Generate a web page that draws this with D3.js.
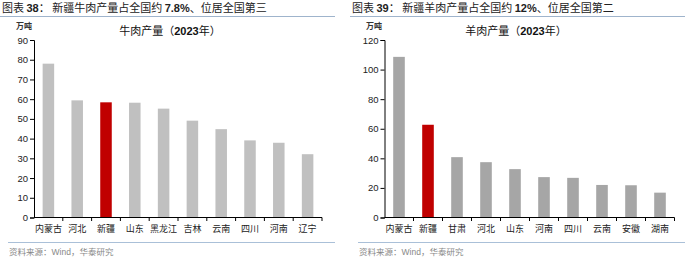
<!DOCTYPE html>
<html>
<head>
<meta charset="utf-8">
<script src="https://cdn.jsdelivr.net/npm/d3@7"></script>
<style>
body { margin: 0; background: #fff; }
svg text { font-family: "Liberation Sans", Arial, "Noto Sans CJK SC", sans-serif; }
.cjk { font-family: "Noto Sans CJK SC", sans-serif; }
.axis path, .axis line { stroke: #000; }
</style>
</head>
<body>
<svg id="chart" width="700" height="261"></svg>
<script>
let beefRegions = ['内蒙古', '河北', '新疆', '山东', '黑龙江', '吉林', '云南', '四川', '河南', '辽宁'];
let beefValues = [78.0, 59.4, 58.4, 58.2, 55.2, 49.1, 44.8, 39.1, 37.9, 32.1];
let beefTicks = [0, 10, 20, 30, 40, 50, 60, 70, 80, 90];

let muttonRegions = ['内蒙古', '新疆', '甘肃', '河北', '山东', '河南', '四川', '云南', '安徽', '湖南'];
let muttonValues = [108.6, 62.7, 40.8, 37.4, 32.7, 27.3, 26.8, 22.0, 21.8, 16.8];
let muttonTicks = [0, 20, 40, 60, 80, 100, 120];

let svg = d3.select('#chart');

function drawPanel(opt) {
    let g = svg.append('g').attr('transform', `translate(${opt.left},0)`);

    // header
    g.append('text')
        .attr('x', 2).attr('y', 12)
        .attr('font-size', 11).attr('fill', '#222')
        .html(`<tspan class="cjk">图表 </tspan><tspan font-weight="bold">${opt.num}</tspan><tspan class="cjk">：  </tspan><tspan class="cjk">${opt.head1}</tspan><tspan font-weight="bold">${opt.pct}</tspan><tspan class="cjk">${opt.head2}</tspan>`);
    g.append('line')
        .attr('x1', 0).attr('x2', 335).attr('y1', 16.5).attr('y2', 16.5)
        .attr('stroke', '#9fb4cc').attr('stroke-width', 1.2);

    g.append('text').attr('class', 'cjk')
        .attr('x', 16).attr('y', 29)
        .attr('font-size', 8).attr('font-weight', 'bold').attr('fill', '#333')
        .text('万吨');

    g.append('text').attr('class', 'cjk')
        .attr('x', opt.titleX).attr('y', 35)
        .attr('text-anchor', 'middle')
        .attr('font-size', 11).attr('fill', '#111')
        .html(`${opt.title}（<tspan font-family="Liberation Sans" font-weight="bold">2023</tspan>年）`);

    let x = d3.scaleBand()
        .domain(opt.regions)
        .range([opt.x0, opt.x1])
        .paddingInner(0.6).paddingOuter(0.3);

    let y = d3.scaleLinear()
        .domain([0, opt.ticks[opt.ticks.length - 1]])
        .range([217.5, 40]);

    g.selectAll('rect.bar')
        .data(opt.values)
        .join('rect')
            .attr('class', 'bar')
            .attr('x', (d, i) => x(opt.regions[i]))
            .attr('width', x.bandwidth())
            .attr('y', d => y(d))
            .attr('height', d => y(0) - y(d))
            .attr('fill', (d, i) => opt.regions[i] === '新疆' ? '#c00000' : opt.gray);

    let yAxis = d3.axisLeft(y).tickValues(opt.ticks).tickSize(4).tickSizeOuter(4);
    g.append('g')
        .attr('class', 'axis')
        .attr('transform', `translate(${opt.x0},0)`)
        .call(yAxis)
        .call(a => a.selectAll('text').attr('font-size', 9.5).attr('fill', '#222').attr('x', -6));

    // x axis with ticks at band boundaries
    let xa = g.append('g').attr('class', 'axis');
    xa.append('line')
        .attr('x1', opt.x0).attr('x2', opt.x1)
        .attr('y1', y(0)).attr('y2', y(0))
        .attr('stroke', '#000');
    let step = x.step();
    let edges = d3.range(opt.regions.length + 1).map(i => opt.x0 + i * (opt.x1 - opt.x0) / opt.regions.length);
    xa.selectAll('line.tk')
        .data(edges.slice(1))
        .join('line')
            .attr('class', 'tk')
            .attr('x1', d => d).attr('x2', d => d)
            .attr('y1', y(0)).attr('y2', y(0) + 3.5)
            .attr('stroke', '#000');
    xa.selectAll('text')
        .data(opt.regions)
        .join('text')
            .attr('class', 'cjk')
            .attr('x', d => x(d) + x.bandwidth() / 2)
            .attr('y', 232)
            .attr('text-anchor', 'middle')
            .attr('font-size', 9).attr('fill', '#222')
            .text(d => d);

    // footer
    g.append('line')
        .attr('x1', 8).attr('x2', 335).attr('y1', 242.5).attr('y2', 242.5)
        .attr('stroke', '#aac0d8').attr('stroke-width', 1.2);
    g.append('text')
        .attr('x', 9).attr('y', 255)
        .attr('font-size', 8.5).attr('fill', '#888')
        .html('<tspan class="cjk">资料来源：</tspan>Wind<tspan class="cjk">，华泰研究</tspan>');
}

drawPanel({
    left: 0, num: '38', head1: '新疆牛肉产量占全国约 ', pct: '7.8%', head2: '、位居全国第三',
    title: '牛肉产量', titleX: 170, regions: beefRegions, values: beefValues, ticks: beefTicks,
    x0: 34, x1: 322, gray: '#c0c0c0'
});
drawPanel({
    left: 350, num: '39', head1: '新疆羊肉产量占全国约 ', pct: '12%', head2: '、位居全国第二',
    title: '羊肉产量', titleX: 166, regions: muttonRegions, values: muttonValues, ticks: muttonTicks,
    x0: 34.5, x1: 324.5, gray: '#a6a6a6'
});
</script>
</body>
</html>
